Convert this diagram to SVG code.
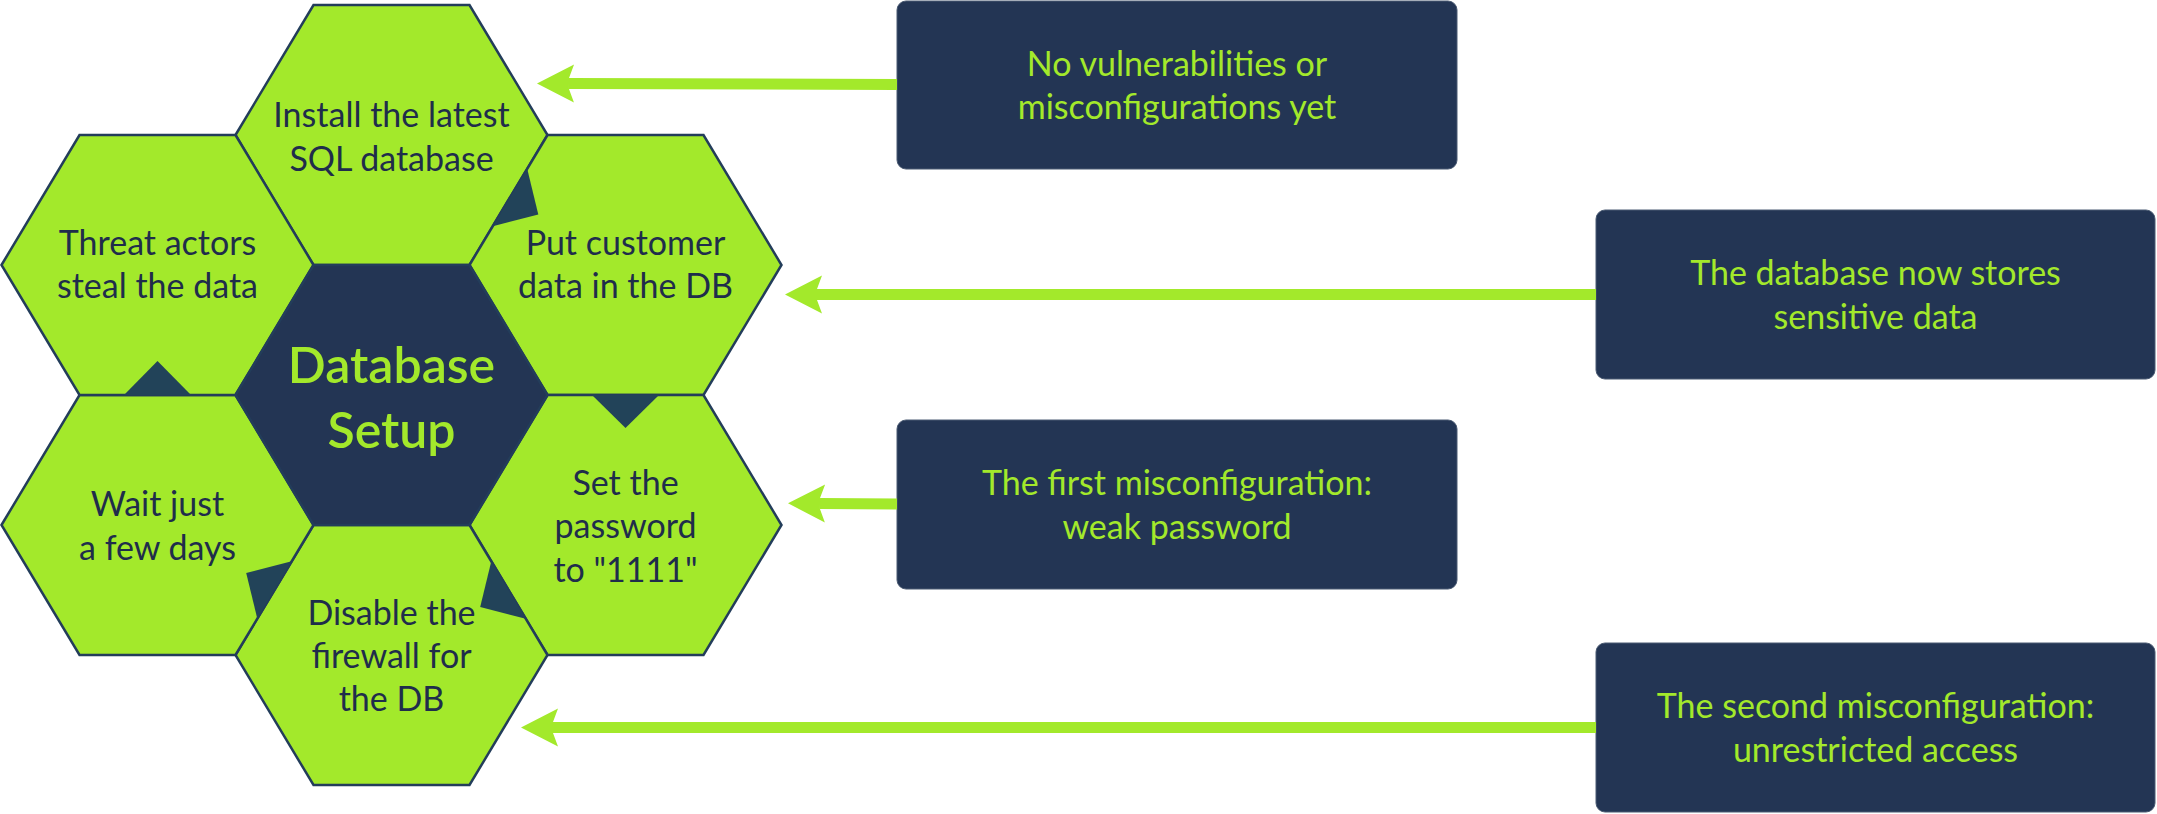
<svg xmlns="http://www.w3.org/2000/svg" width="2157" height="814" viewBox="0 0 2157 814">
  <style>
    .hex { fill: #a3e92b; stroke: #233d5a; stroke-width: 2.5; stroke-linejoin: miter; }
    .hexc { fill: #233554; stroke: #233d5a; stroke-width: 2.5; }
    .notch { fill: #224359; }
    .box { fill: #233554; stroke: #4a5a72; stroke-width: 1; }
    .ht { font-family: Lato, "Liberation Sans", sans-serif; font-size: 34px; fill: #1f2d4b; text-anchor: middle; }
    .bt { font-family: Lato, "Liberation Sans", sans-serif; font-size: 34px; fill: #a3e92b; text-anchor: middle; }
    .ct { font-family: Lato, "Liberation Sans", sans-serif; font-size: 50px; font-weight: 600; fill: #a3e92b; text-anchor: middle; }
    .arrow { stroke: #a3e92b; stroke-width: 11; fill: none; marker-end: url(#ah); }
  </style>
  <defs>
    <polygon id="hexshape" points="-156,0 -78,-130 78,-130 156,0 78,130 -78,130"/>
    <marker id="ah" markerUnits="userSpaceOnUse" markerWidth="40" markerHeight="40" refX="6" refY="19" orient="auto" overflow="visible">
      <path d="M38,19 L1,0 L6,13.5 L6,24.5 L1,38 Z" fill="#a3e92b"/>
    </marker>
  </defs>

  <g id="hex-top">
    <polygon class="hex" transform="translate(391.5,135)" points="-156,0 -78,-130 78,-130 156,0 78,130 -78,130"/>
    <text class="ht" x="391.5" y="127">Install the latest</text>
    <text class="ht" x="391.5" y="171">SQL database</text>
  </g>
  <g id="hex-upper-right">
    <polygon class="hex" transform="translate(625.5,265)" points="-156,0 -78,-130 78,-130 156,0 78,130 -78,130"/>
    <text class="ht" x="625.5" y="255">Put customer</text>
    <text class="ht" x="625.5" y="298">data in the DB</text>
  </g>
  <g id="hex-lower-right">
    <polygon class="hex" transform="translate(625.5,525)" points="-156,0 -78,-130 78,-130 156,0 78,130 -78,130"/>
    <text class="ht" x="625.5" y="495">Set the</text>
    <text class="ht" x="625.5" y="538">password</text>
    <text class="ht" x="625.5" y="582">to "1111"</text>
  </g>
  <g id="hex-bottom">
    <polygon class="hex" transform="translate(391.5,655)" points="-156,0 -78,-130 78,-130 156,0 78,130 -78,130"/>
    <text class="ht" x="391.5" y="625">Disable the</text>
    <text class="ht" x="391.5" y="668">firewall for</text>
    <text class="ht" x="391.5" y="711">the DB</text>
  </g>
  <g id="hex-lower-left">
    <polygon class="hex" transform="translate(157.5,525)" points="-156,0 -78,-130 78,-130 156,0 78,130 -78,130"/>
    <text class="ht" x="157.5" y="516">Wait just</text>
    <text class="ht" x="157.5" y="560">a few days</text>
  </g>
  <g id="hex-upper-left">
    <polygon class="hex" transform="translate(157.5,265)" points="-156,0 -78,-130 78,-130 156,0 78,130 -78,130"/>
    <text class="ht" x="157.5" y="255">Threat actors</text>
    <text class="ht" x="157.5" y="298">steal the data</text>
  </g>
  <g id="hex-center">
    <polygon class="hexc" transform="translate(391.5,395)" points="-156,0 -78,-130 78,-130 156,0 78,130 -78,130"/>
    <text class="ct" x="391.5" y="383">Database</text>
    <text class="ct" x="391.5" y="448">Setup</text>
  </g>

  <g id="flow-notches">
    <polygon class="notch" points="527.2,168.8 538.3,214.5 492.8,226.2"/>
    <polygon class="notch" points="592,395 659,395 625.5,428"/>
    <polygon class="notch" points="491.3,561.3 525.7,618.7 480.2,607"/>
    <polygon class="notch" points="291.7,561.3 257.3,618.7 246.2,573"/>
    <polygon class="notch" points="124,395 191,395 157.5,361"/>
  </g>

  <g id="box-1">
    <rect class="box" x="897" y="1" width="560" height="168" rx="9"/>
    <text class="bt" x="1177" y="76">No vulnerabilities or</text>
    <text class="bt" x="1177" y="119">misconfigurations yet</text>
  </g>
  <g id="box-2">
    <rect class="box" x="1596" y="210" width="559" height="169" rx="9"/>
    <text class="bt" x="1875.5" y="285">The database now stores</text>
    <text class="bt" x="1875.5" y="329">sensitive data</text>
  </g>
  <g id="box-3">
    <rect class="box" x="897" y="420" width="560" height="169" rx="9"/>
    <text class="bt" x="1177" y="495">The first misconfiguration:</text>
    <text class="bt" x="1177" y="539">weak password</text>
  </g>
  <g id="box-4">
    <rect class="box" x="1596" y="643" width="559" height="169" rx="9"/>
    <text class="bt" x="1875.5" y="718">The second misconfiguration:</text>
    <text class="bt" x="1875.5" y="762">unrestricted access</text>
  </g>

  <g id="connectors">
    <line class="arrow" x1="897" y1="84.5" x2="569" y2="83.5"/>
    <line class="arrow" x1="1596" y1="294.5" x2="817" y2="294.5"/>
    <line class="arrow" x1="897" y1="504" x2="820" y2="503.5"/>
    <line class="arrow" x1="1596" y1="727.5" x2="553" y2="727.5"/>
  </g>
</svg>
